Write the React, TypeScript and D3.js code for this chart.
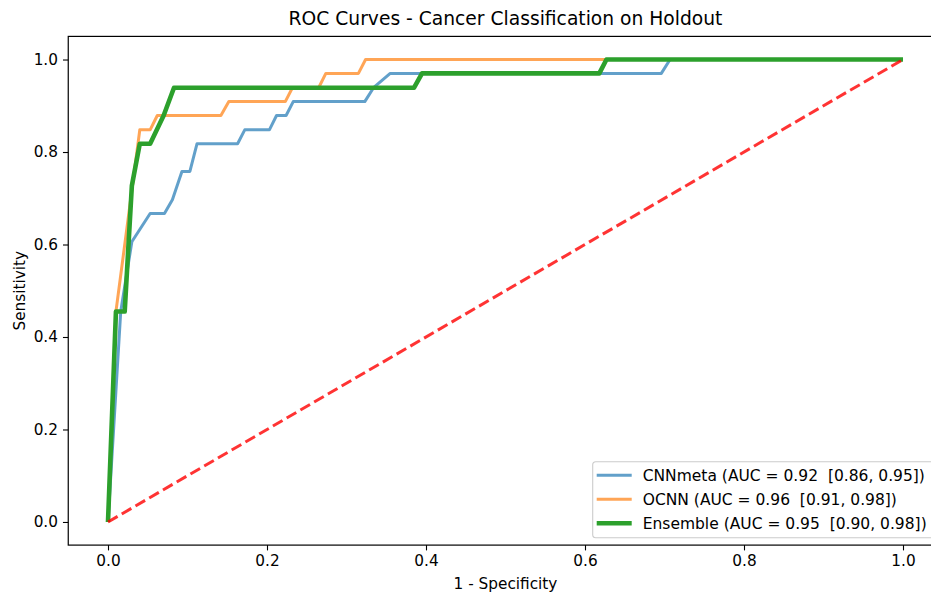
import React, { useRef, useEffect } from "react";
import * as d3 from "d3";

// ROC points (fpr / tpr)
const cnnFpr = [0, 0.016, 0.03, 0.053, 0.071, 0.081, 0.093, 0.103, 0.112, 0.163, 0.172, 0.203, 0.212, 0.224, 0.233, 0.323, 0.334, 0.355, 0.696, 0.707, 1.0];
const cnnTpr = [0, 0.455, 0.606, 0.667, 0.667, 0.697, 0.758, 0.758, 0.818, 0.818, 0.848, 0.848, 0.879, 0.879, 0.909, 0.909, 0.939, 0.97, 0.97, 1.0, 1.0];

const ocnnFpr = [0, 0.01, 0.04, 0.053, 0.062, 0.142, 0.152, 0.223, 0.232, 0.265, 0.274, 0.315, 0.324, 1.0];
const ocnnTpr = [0, 0.455, 0.848, 0.848, 0.879, 0.879, 0.909, 0.909, 0.939, 0.939, 0.97, 0.97, 1.0, 1.0];

const ensFpr = [0, 0.01, 0.021, 0.03, 0.04, 0.053, 0.07, 0.083, 0.385, 0.395, 0.618, 0.627, 1.0];
const ensTpr = [0, 0.455, 0.455, 0.727, 0.818, 0.818, 0.879, 0.939, 0.939, 0.97, 0.97, 1.0, 1.0];

const seriesNames = [
  "CNNmeta (AUC = 0.92  [0.86, 0.95])",
  "OCNN (AUC = 0.96  [0.91, 0.98])",
  "Ensemble (AUC = 0.95  [0.90, 0.98])",
];
const tickValues = [0, 0.2, 0.4, 0.6, 0.8, 1.0];

const App = () => {
  const svgRef = useRef(null);

  useEffect(() => {
    document.body.style.margin = "0";
    const svg = d3.select(svgRef.current);
    svg.selectAll("*").remove();
    const width = 931;
    const height = 593;
    const font = "DejaVu Sans, sans-serif";

    // axes box (right spine sits just past the window edge)
    const x = d3.scaleLinear().domain([-0.05, 1.05]).range([68.25, 942.75]);
    const y = d3.scaleLinear().domain([-0.05, 1.05]).range([545.1, 36.4]);

    svg.attr("width", width).attr("height", height);

    svg
      .append("text")
      .attr("x", (x(-0.05) + x(1.05)) / 2)
      .attr("y", 25)
      .attr("text-anchor", "middle")
      .style("font-family", font)
      .style("font-size", "18.7px")
      .text("ROC Curves - Cancer Classification on Holdout");

    const xAxis = svg
      .append("g")
      .attr("transform", `translate(0,${y(-0.05)})`)
      .call(d3.axisBottom(x).tickValues(tickValues).tickFormat(d3.format(".1f")).tickSize(5.3).tickPadding(5));
    const yAxis = svg
      .append("g")
      .attr("transform", `translate(${x(-0.05)},0)`)
      .call(d3.axisLeft(y).tickValues(tickValues).tickFormat(d3.format(".1f")).tickSize(5.3).tickPadding(5));
    [xAxis, yAxis].forEach((g) => {
      g.select(".domain").remove();
      g.selectAll("line").attr("stroke", "#000").attr("stroke-width", 1.1);
      g.selectAll("text").style("font-family", font).style("font-size", "15.3px").attr("fill", "#000");
    });

    // spines
    svg
      .append("rect")
      .attr("x", x(-0.05))
      .attr("y", y(1.05))
      .attr("width", x(1.05) - x(-0.05))
      .attr("height", y(-0.05) - y(1.05))
      .attr("fill", "none")
      .attr("stroke", "#000")
      .attr("stroke-width", 1.2);

    svg
      .append("text")
      .attr("transform", `translate(25,${(y(-0.05) + y(1.05)) / 2}) rotate(-90)`)
      .attr("text-anchor", "middle")
      .style("font-family", font)
      .style("font-size", "15.3px")
      .text("Sensitivity");

    svg
      .append("text")
      .attr("x", (x(-0.05) + x(1.05)) / 2)
      .attr("y", 589)
      .attr("text-anchor", "middle")
      .style("font-family", font)
      .style("font-size", "15.3px")
      .text("1 - Specificity");

    const line = d3
      .line()
      .x((d) => x(d[0]))
      .y((d) => y(d[1]));

    const series = [
      { fpr: cnnFpr, tpr: cnnTpr, color: "#1f77b4", opacity: 0.7, width: 3 },
      { fpr: ocnnFpr, tpr: ocnnTpr, color: "#ff7f0e", opacity: 0.7, width: 3 },
      { fpr: ensFpr, tpr: ensTpr, color: "#2ca02c", opacity: 1, width: 4.6 },
    ];

    series.forEach((s) => {
      svg
        .append("path")
        .datum(s.fpr.map((f, i) => [f, s.tpr[i]]))
        .attr("fill", "none")
        .attr("stroke", s.color)
        .attr("stroke-opacity", s.opacity)
        .attr("stroke-width", s.width)
        .attr("stroke-linejoin", "round")
        .attr("d", line);
    });

    // chance line
    svg
      .append("path")
      .datum([[0, 0], [1, 1]])
      .attr("fill", "none")
      .attr("stroke", "#ff0000")
      .attr("stroke-opacity", 0.8)
      .attr("stroke-width", 3)
      .attr("stroke-dasharray", "11.1,4.8")
      .attr("d", line);

    // legend
    const lg = svg.append("g").attr("transform", "translate(592.7,461.7)");
    lg.append("rect")
      .attr("width", 343)
      .attr("height", 76)
      .attr("rx", 3)
      .attr("fill", "#fff")
      .attr("fill-opacity", 0.8)
      .attr("stroke", "#cccccc")
      .attr("stroke-width", 1.1);
    series.forEach((s, i) => {
      const cy = 13.5 + i * 24;
      lg.append("line")
        .attr("x1", 4)
        .attr("x2", 39)
        .attr("y1", cy)
        .attr("y2", cy)
        .attr("stroke", s.color)
        .attr("stroke-opacity", s.opacity)
        .attr("stroke-width", s.width);
      lg.append("text")
        .attr("x", 50)
        .attr("y", cy + 5.5)
        .attr("xml:space", "preserve")
        .style("white-space", "pre")
        .style("font-family", font)
        .style("font-size", "15.5px")
        .text(seriesNames[i]);
    });
  }, []);

  return <svg ref={svgRef} style={{ display: "block" }}></svg>;
};

export default App;
